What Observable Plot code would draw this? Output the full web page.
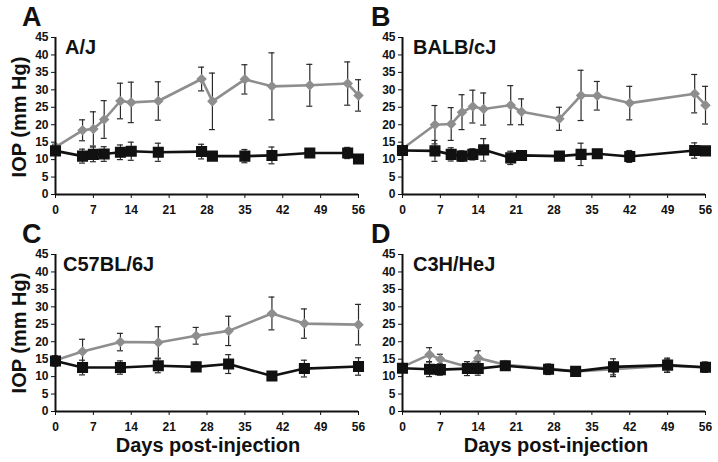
<!DOCTYPE html>
<html><head><meta charset="utf-8">
<script src="https://cdn.jsdelivr.net/npm/d3@7"></script>
<script src="https://cdn.jsdelivr.net/npm/@observablehq/plot@0.6"></script>
<style>
body{margin:0;background:#fff;}
#fig{position:relative;width:718px;height:462px;background:#fff;font-family:"Liberation Sans",Arial,sans-serif;overflow:hidden;}
#fig svg{position:absolute;overflow:visible;}
</style></head><body><div id="fig"></div>
<script>
// ---- tick labels ----
const xTicks = [0, 7, 14, 21, 28, 35, 42, 49, 56];
const yTicks = [0, 5, 10, 15, 20, 25, 30, 35, 40, 45];
const panelLetters = ["A", "B", "C", "D"];
const strainNames = ["A/J", "BALB/cJ", "C57BL/6J", "C3H/HeJ"];
const yLabel = "IOP (mm Hg)";
const xLabel = "Days post-injection";

// ---- Panel A: A/J ----
const daysA = [0, 5, 7, 9, 12, 14, 19, 27, 29, 35, 40, 47, 54, 56];
const grayA = [13.6, 18.4, 18.8, 21.5, 26.8, 26.4, 26.8, 33.1, 26.7, 33.0, 31.0, 31.3, 31.8, 28.4];
const grayErrA = [0.8, 3.0, 4.9, 5.4, 5.1, 5.8, 5.5, 3.4, 8.1, 4.2, 9.6, 6.0, 6.2, 4.5];
const blackA = [12.5, 11.0, 11.5, 11.6, 12.1, 12.4, 12.1, 12.3, 11.0, 11.0, 11.2, 11.9, 11.9, 10.2];
const blackErrA = [1.0, 2.0, 2.1, 2.1, 2.1, 2.6, 2.6, 2.1, 1.0, 1.9, 2.4, 1.0, 1.6, 0.8];

// ---- Panel B: BALB/cJ ----
const daysB = [0, 6, 9, 11, 13, 15, 20, 22, 29, 33, 36, 42, 54, 56];
const grayB = [13.1, 20.0, 20.2, 23.6, 25.2, 24.5, 25.6, 23.7, 21.7, 28.4, 28.3, 26.2, 28.9, 25.6];
const grayErrB = [0.8, 5.5, 4.7, 5.0, 4.7, 4.6, 5.6, 3.7, 3.3, 7.2, 4.1, 4.8, 5.5, 5.4];
const blackB = [12.6, 12.5, 11.5, 11.0, 11.5, 12.8, 10.5, 11.2, 11.0, 11.5, 11.7, 10.9, 12.6, 12.5];
const blackErrB = [1.0, 3.0, 1.9, 1.5, 1.6, 3.2, 1.9, 0.8, 0.8, 3.2, 0.8, 1.7, 2.2, 1.0];

// ---- Panel C: C57BL/6J ----
const daysC = [0, 5, 12, 19, 26, 32, 40, 46, 56];
const grayC = [14.7, 17.2, 19.9, 19.8, 21.7, 23.1, 28.1, 25.2, 24.9];
const grayErrC = [0.8, 3.5, 2.5, 4.5, 2.4, 4.2, 4.7, 4.2, 5.8];
const blackC = [14.5, 12.6, 12.6, 13.1, 12.8, 13.6, 10.2, 12.3, 12.9];
const blackErrC = [1.5, 2.1, 1.9, 2.0, 1.3, 2.7, 0.8, 2.4, 2.5];

// ---- Panel D: C3H/HeJ ----
const daysD = [0, 5, 7, 12, 14, 19, 27, 32, 39, 49, 56];
const grayD = [12.8, 16.3, 15.0, 12.8, 15.3, 13.4, 12.3, 11.5, 12.1, 13.1, 12.6];
const grayErrD = [0.5, 2.0, 1.4, 1.0, 2.1, 1.0, 1.0, 0.8, 2.1, 1.9, 1.0];
const blackD = [12.4, 12.1, 12.0, 12.3, 12.3, 13.1, 12.1, 11.5, 12.8, 13.3, 12.7];
const blackErrD = [1.0, 2.1, 1.6, 2.0, 1.9, 1.0, 1.5, 0.8, 2.3, 2.0, 1.5];

const FONT = '"Liberation Sans", Arial, Helvetica, sans-serif';
const GRAY = "#8e8e8e", BLACK = "#111111", ERR = "#2a2a2a";

function rows(days, m, e) { return days.map((d, i) => ({day: d, v: m[i], e: e[i]})); }

function errMarks(data) {
  return [
    Plot.ruleX(data, {x: "day", y1: d => d.v - d.e, y2: d => d.v + d.e, stroke: ERR, strokeWidth: 1.2}),
    Plot.ruleY(data, {y: d => d.v + d.e, x1: "day", x2: "day", insetLeft: -3, insetRight: -3, stroke: ERR, strokeWidth: 1.2}),
    Plot.ruleY(data, {y: d => d.v - d.e, x1: "day", x2: "day", insetLeft: -3, insetRight: -3, stroke: ERR, strokeWidth: 1.2})
  ];
}

function panel(days, gm, ge, bm, be, box) {
  const gray = rows(days, gm, ge), black = rows(days, bm, be);
  const svg = Plot.plot({
    width: box.w, height: 220,
    marginLeft: box.ml, marginRight: box.mr, marginTop: 37, marginBottom: 26,
    x: {domain: [0, 56], ticks: xTicks, tickSize: 4, tickPadding: 7, label: null},
    y: {domain: [0, 45], ticks: yTicks, tickSize: 4, tickPadding: 3, label: null},
    style: {fontFamily: FONT, fontSize: "12px", fontWeight: "bold", color: "#111", background: "transparent", overflow: "visible"},
    marks: [
      ...errMarks(gray),
      Plot.line(gray, {x: "day", y: "v", stroke: GRAY, strokeWidth: 2.6}),
      Plot.dot(gray, {x: "day", y: "v", symbol: "diamond2", r: 3.8, fill: GRAY, stroke: GRAY}),
      ...errMarks(black),
      Plot.line(black, {x: "day", y: "v", stroke: BLACK, strokeWidth: 2.6}),
      Plot.dot(black, {x: "day", y: "v", symbol: "square", r: 5.4, fill: BLACK, stroke: BLACK}),
      Plot.ruleX([0], {stroke: "#111", strokeWidth: 2}),
      Plot.ruleY([0], {stroke: "#111", strokeWidth: 2})
    ]
  });
  svg.style.left = box.left + "px";
  svg.style.top = box.top + "px";
  return svg;
}

const fig = document.getElementById("fig");
const L = {w: 362, ml: 55, mr: 4, left: 0};
const R = {w: 360, ml: 44, mr: 13, left: 358};
fig.appendChild(panel(daysA, grayA, grayErrA, blackA, blackErrA, {...L, top: 0}));
fig.appendChild(panel(daysB, grayB, grayErrB, blackB, blackErrB, {...R, top: 0}));
fig.appendChild(panel(daysC, grayC, grayErrC, blackC, blackErrC, {...L, top: 217}));
fig.appendChild(panel(daysD, grayD, grayErrD, blackD, blackErrD, {...R, top: 217}));

// ---- annotations overlay ----
const ov = d3.select(fig).append("svg").attr("width", 718).attr("height", 462)
  .style("left", "0px").style("top", "0px").style("pointer-events", "none")
  .attr("font-family", FONT).attr("font-weight", "bold").attr("fill", "#111");
const letterPos = [[22, 26], [371, 26], [22, 243], [371, 243]];
panelLetters.forEach((t, i) => ov.append("text").attr("x", letterPos[i][0]).attr("y", letterPos[i][1]).attr("font-size", 27).text(t));
const namePos = [[65, 54], [413, 54], [63, 271], [413, 271]];
strainNames.forEach((t, i) => ov.append("text").attr("x", namePos[i][0]).attr("y", namePos[i][1]).attr("font-size", 20).text(t));
[117, 333].forEach(cy => ov.append("text").attr("transform", `translate(26,${cy}) rotate(-90)`).attr("text-anchor", "middle").attr("font-size", 20).text(yLabel));
[208, 556].forEach(cx => ov.append("text").attr("x", cx).attr("y", 452).attr("text-anchor", "middle").attr("font-size", 20).text(xLabel));
</script></body></html>
